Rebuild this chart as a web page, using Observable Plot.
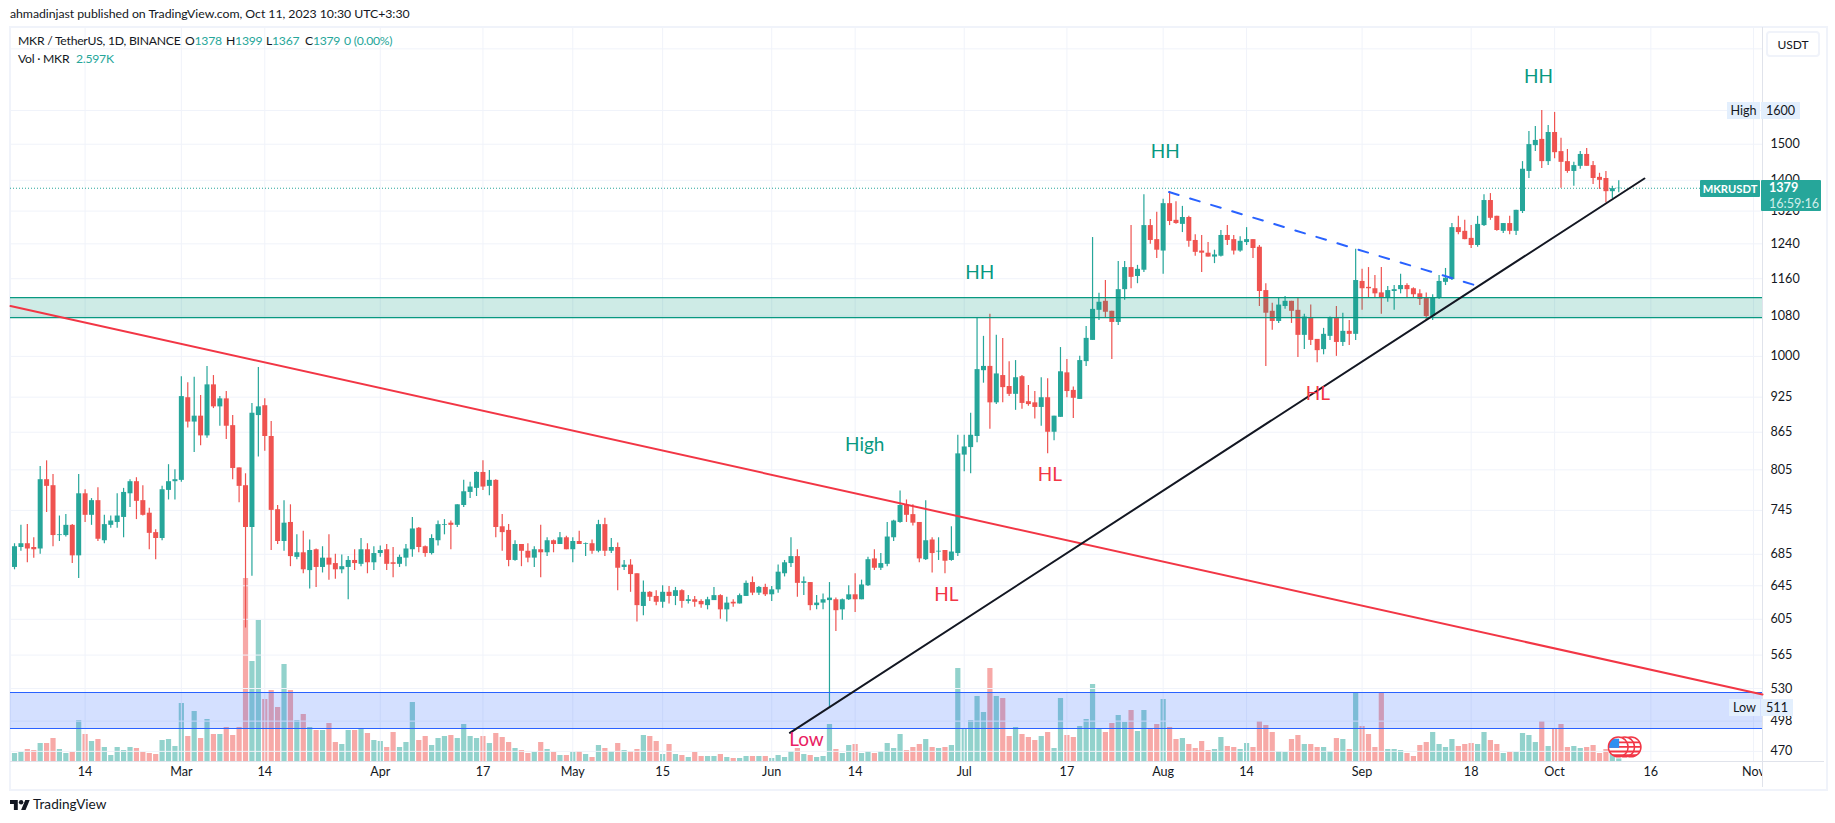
<!DOCTYPE html>
<html>
<head>
<meta charset="utf-8">
<script src="https://cdn.jsdelivr.net/npm/d3@7"></script>
<script src="https://cdn.jsdelivr.net/npm/@observablehq/plot@0.6"></script>
<style>
html,body{margin:0;padding:0;background:#fff;width:1835px;height:823px;overflow:hidden}
#page{position:relative;width:1835px;height:823px;font-family:Lato,sans-serif;color:#131722;font-size:12.6px}
#page .layer svg{position:absolute;left:0;top:27px;background:transparent}
.abs{position:absolute;white-space:nowrap}
.leg{font-size:12.2px;letter-spacing:-0.25px}
.up{color:#26a69a}
.chip{position:absolute;display:flex;align-items:center;justify-content:center;white-space:nowrap;font-size:12.6px}
.blue{background:#e3effd}
.teal{background:#26a69a;color:#fff;border-radius:1px}
</style>
</head>
<body>
<div id="page">
  <div class="abs" style="left:10px;top:6px;font-size:12.3px;letter-spacing:-0.05px">ahmadinjast published on TradingView.com, Oct 11, 2023 10:30 UTC+3:30</div>
  <div class="abs" id="frame" style="left:9px;top:26px;width:1815px;height:761px;border:2px solid #f0f3fa;box-sizing:content-box"></div>
  <div id="volumeLayer" class="layer"></div>
  <div id="priceLayer" class="layer"></div>
  <div class="abs leg" style="left:18px;top:33px">MKR / TetherUS, 1D, BINANCE</div>
  <div class="abs leg" style="left:185px;top:33px">O<span class="up">1378</span></div>
  <div class="abs leg" style="left:226px;top:33px">H<span class="up">1399</span></div>
  <div class="abs leg" style="left:266px;top:33px">L<span class="up">1367</span></div>
  <div class="abs leg" style="left:305px;top:33px">C<span class="up">1379</span></div>
  <div class="abs leg up" style="left:344px;top:33px">0 (0.00%)</div>
  <div class="abs leg" style="left:18px;top:51px">Vol · MKR</div>
  <div class="abs leg up" style="left:76px;top:51px">2.597K</div>
  <div class="abs" style="left:1762px;top:761px;width:62px;height:26px;background:#fff;border-left:1px solid #e0e3eb;border-top:1px solid #e0e3eb;box-sizing:border-box"></div>
  <div class="chip" style="left:1766px;top:31px;width:54px;height:26px;background:#fff;border:2px solid #f0f3fa;border-radius:4px;box-sizing:border-box;font-size:12px">USDT</div>
  <div class="chip blue" style="left:1727px;top:102px;width:33px;height:17px">High</div>
  <div class="chip blue" style="left:1761px;top:102px;width:39px;height:17px">1600</div>
  <div class="chip blue" style="left:1729px;top:699px;width:31px;height:17px">Low</div>
  <div class="chip blue" style="left:1761px;top:699px;width:32px;height:17px">511</div>
  <div class="chip teal" style="left:1700px;top:180px;width:60px;height:17px;font-weight:700;font-size:11.2px">MKRUSDT</div>
  <div class="abs teal" style="left:1761px;top:180px;width:60px;height:31px;padding-left:8px;box-sizing:border-box;line-height:15.5px"><span style="font-weight:700">1379</span><br><span style="color:#d0eeea">16:59:16</span></div>
  <svg class="abs" style="left:10px;top:799px" width="20" height="12" viewBox="0 4 36 18"><path fill="#131722" d="M14 22H7V11H0V4h14v18zM28 22h-8l7.5-18h8L28 22z"/><circle cx="20" cy="8" r="4" fill="#131722"/></svg>
  <div class="abs" style="left:33px;top:796px;font-size:13.6px">TradingView</div>
</div>
<script>
// Daily candles Feb 3 .. Oct 11 2023
const opens = [
668,694,699,694,692,790,781,710,710,724,683,769,738,759,703,724,728,735,769,787,759,741,714,706,774,787,
789,924,882,892,859,947,908,922,876,808,781,721,893,910,858,746,702,728,681,687,664,691,668,680,673,665,668,677,672,691,674,
686,691,674,672,680,691,720,695,686,703,724,727,724,752,771,777,801,780,789,722,717,677,698,689,680,691,687,703,698,707,
691,702,698,699,689,725,689,694,668,671,660,620,637,632,625,637,632,639,626,628,626,621,627,633,616,625,623,632,649,636,643,
634,640,660,673,682,648,649,621,624,627,628,616,628,634,628,645,679,667,672,707,728,752,739,728,678,704,688,690,677,686,
828,840,858,973,981,915,964,944,930,962,917,915,907,924,865,890,969,937,921,990,1031,1092,1111,1090,1067,1136,1185,1165,1179,1284,1250,
1223,1339,1297,1287,1304,1248,1223,1218,1209,1211,1260,1250,1223,1243,1250,1232,1134,1090,1069,1100,1111,1092,1041,1075,1033,1013,1039,1075,1027,1049,1043,
1154,1141,1138,1129,1117,1132,1136,1145,1138,1127,1117,1079,1117,1152,1158,1279,1270,1253,1236,1284,1347,1307,1270,1289,1270,1319,1424,1496,1514,1451,
1534,1479,1451,1424,1438,1471,1440,1408,1405,1370,1378];
const highs = [
699,724,725,707,810,819,798,737,739,725,798,775,762,778,738,737,769,777,790,793,781,748,718,780,813,805,
962,951,961,928,981,964,926,935,893,808,799,914,979,922,883,752,759,753,711,716,704,692,695,711,685,684,682,691,706,699,695,
696,698,694,684,698,735,721,696,711,730,732,730,753,789,786,802,819,804,790,739,725,703,698,699,695,724,707,704,714,709,
707,716,700,704,731,734,706,700,677,678,660,651,638,639,645,644,643,640,633,632,628,631,643,634,631,628,635,651,656,644,647,
644,671,677,707,691,656,649,633,635,649,630,629,645,660,652,681,691,686,728,731,773,760,753,728,759,707,707,690,722,860,
860,897,1077,1039,1084,1041,1035,990,992,964,946,935,960,958,892,1017,994,943,1000,1059,1255,1128,1156,1090,1199,1199,1284,1190,1362,1299,1317,
1350,1370,1344,1332,1307,1262,1260,1243,1225,1272,1284,1260,1257,1279,1250,1236,1149,1107,1117,1121,1111,1117,1084,1103,1033,1055,1078,1100,1086,1071,1227,
1181,1185,1167,1185,1143,1145,1170,1149,1140,1136,1129,1125,1167,1183,1289,1307,1297,1284,1307,1362,1365,1307,1289,1307,1322,1451,1537,1552,1600,1555,
1594,1517,1485,1449,1479,1488,1451,1419,1424,1384,1399];
const lows = [
665,689,674,680,685,742,695,702,708,673,654,728,724,702,699,720,720,707,749,732,737,691,678,703,760,760,
786,872,832,843,855,905,875,853,790,756,595,657,825,834,690,698,689,669,678,660,641,643,661,652,653,660,628,664,669,660,664,
681,664,655,668,669,681,687,681,684,696,711,691,721,749,762,765,774,766,707,689,669,676,669,674,668,655,682,687,698,691,
674,698,682,685,687,682,686,639,664,637,602,609,626,621,618,623,621,618,623,619,618,616,627,605,602,619,623,632,633,633,632,
626,636,656,668,631,633,615,616,616,511,591,604,627,613,628,644,664,664,669,702,727,728,723,674,677,661,677,660,676,682,
802,799,848,950,870,912,915,926,902,904,909,887,875,830,851,890,924,888,921,981,1031,1071,1075,994,1061,1113,1138,1149,1174,1239,1206,
1170,1284,1287,1267,1232,1211,1174,1209,1194,1209,1236,1214,1220,1236,1206,1100,981,1051,1065,1094,1065,998,1013,1021,988,1003,1031,1000,1019,1021,1031,
1092,1119,1119,1084,1109,1092,1127,1117,1119,1102,1071,1071,1115,1145,1156,1262,1250,1229,1232,1282,1297,1270,1265,1262,1260,1314,1405,1479,1432,1440,
1459,1379,1419,1384,1430,1438,1389,1376,1341,1352,1367];
const closes = [
695,699,692,691,790,780,710,711,724,683,769,738,759,705,725,730,737,771,787,758,738,713,706,775,787,790,
926,882,892,859,947,908,922,875,807,780,721,897,908,858,745,702,727,682,687,665,690,668,680,671,665,669,677,673,691,674,686,
690,672,672,681,692,719,694,686,706,725,725,724,753,772,779,801,779,789,721,714,677,698,689,680,691,687,703,698,707,691,
702,698,699,689,725,689,694,667,671,659,621,637,631,625,637,632,639,626,628,625,622,628,633,616,624,623,633,648,636,643,634,
640,662,674,682,648,650,621,624,628,630,615,628,634,628,646,678,667,673,708,730,752,738,727,679,703,686,689,676,688,830,
841,860,975,981,915,967,942,930,960,914,912,907,924,865,892,971,935,923,992,1035,1094,1109,1088,1067,1136,1185,1163,1181,1284,1248,1225,
1339,1294,1289,1304,1246,1220,1218,1209,1214,1260,1248,1223,1246,1250,1229,1132,1086,1069,1103,1111,1090,1041,1078,1031,1011,1043,1075,1027,1049,1043,1156,
1138,1138,1127,1117,1134,1136,1145,1136,1125,1115,1079,1117,1154,1161,1279,1267,1250,1236,1287,1347,1302,1272,1289,1270,1322,1430,1499,1511,1451,1534,
1476,1449,1424,1440,1471,1438,1405,1400,1370,1378,1379];
// Volume in thousands of MKR
const volumes = [
8,9,12,11,18,18,23,12,8,9,41,27,20,22,14,6,14,11,14,13,9,8,7,21,22,15,
58,25,50,23,42,27,27,34,26,34,183,100,141,62,71,54,97,71,41,47,34,31,31,38,19,17,31,31,33,28,21,
20,14,29,14,19,59,21,25,16,23,25,26,23,37,25,23,25,18,28,24,19,13,11,8,9,19,12,9,6,6,
9,10,7,4,16,13,10,18,11,10,12,26,25,20,7,17,7,6,4,9,5,5,5,7,4,3,3,5,5,5,5,
3,6,4,10,13,7,6,4,5,37,12,8,16,17,8,10,8,10,18,13,27,11,14,17,22,14,13,14,16,93,
32,41,65,49,93,65,63,25,34,27,24,21,25,29,13,63,26,24,35,42,77,33,29,38,46,39,51,30,51,32,37,
62,34,22,23,17,13,20,11,12,24,15,14,12,18,14,40,36,29,10,9,22,26,17,17,14,14,10,23,22,12,69,
35,27,14,69,12,12,11,8,5,16,19,29,17,14,22,15,17,18,17,29,21,17,8,9,9,28,26,19,40,15,
32,37,14,15,13,14,16,8,12,7,2.6];

const gridPrices = [1800,1600,1500,1400,1320,1240,1160,1080,1000,925,865,805,745,685,645,605,565,530,498,470];
const priceTickLabels = [1500,1400,1320,1240,1160,1080,1000,925,865,805,745,685,645,605,565,530,498,470];
const timeTickDates = ["2023-02-14","2023-03-01","2023-03-14","2023-04-01","2023-04-17","2023-05-01","2023-05-15","2023-06-01","2023-06-14","2023-07-01","2023-07-17","2023-08-01","2023-08-14","2023-09-01","2023-09-18","2023-10-01","2023-10-16","2023-11-01"];
const timeTickLabels = ["14","Mar","14","Apr","17","May","15","Jun","14","Jul","17","Aug","14","Sep","18","Oct","16","Nov"];

const resistanceZone = [1077,1119];
const supportZone = [491,526];
const lastPrice = 1379;
const redTrend = [["2023-02-02T09:00Z",1101],["2023-11-02T09:36Z",524]];
const blackTrend = [["2023-06-03T20:00Z",487],["2023-10-15T00:00Z",1405]];
const blueTrend = [["2023-08-01T22:00Z",1369],["2023-09-18T08:00Z",1147]];

const noteTexts = ["HH","HH","HH","High","HL","HL","HL","Low"];
const noteDates = ["2023-07-03T10:00Z","2023-08-01T08:00Z","2023-09-28T12:00Z","2023-06-15T12:00Z","2023-06-28T05:00Z","2023-07-14T08:00Z","2023-08-25T03:00Z","2023-06-06T10:00Z"];
const notePrices = [1172,1477,1707,845,634,798,930,480];
const noteColors = ["#089981","#089981","#089981","#089981","#f23645","#f23645","#f23645","#e91e63"];

const eventDates = ["2023-10-12T22:00Z","2023-10-11T22:00Z","2023-10-10T22:00Z"];
const eventPrice = 474;

const UP = "#26a69a", DOWN = "#ef5350";
const xDomain = [new Date("2023-02-02T09:00Z"), new Date("2023-11-02T09:36Z")];
const days = d3.utcDay.range(new Date("2023-02-03T00:00Z"), new Date("2023-10-12T00:00Z"));
const candles = days.map((date,i)=>({date,open:opens[i],high:highs[i],low:lows[i],close:closes[i],volume:volumes[i],
  color:closes[i]>=opens[i]?UP:DOWN}));
const tickDates = timeTickDates.map(d=>new Date(d+"T00:00Z"));
const tickLabelMap = new Map(tickDates.map((d,i)=>[+d,timeTickLabels[i]]));
const trend = a=>a.map(([t,p])=>({t:new Date(t),p}));
const notes = noteTexts.map((text,i)=>({text,t:new Date(noteDates[i]),p:notePrices[i],c:noteColors[i]}));

const flag = `<svg xmlns="http://www.w3.org/2000/svg" viewBox="0 0 24 24"><clipPath id="c"><circle cx="12" cy="12" r="11"/></clipPath><circle cx="12" cy="12" r="11" fill="#fff"/><g clip-path="url(#c)"><path d="M0 6h24v2H0zM0 11h24v2H0zM0 16h24v2H0zM0 20h24v2H0z" fill="#f23645"/><rect x="2" y="3" width="11" height="10" fill="#2f8ff0"/></g><circle cx="12" cy="12" r="10.8" fill="none" stroke="#f23645" stroke-width="1.6"/></svg>`;
const flagSrc = "data:image/svg+xml," + encodeURIComponent(flag);
const events = eventDates.map(d=>({t:new Date(d),src:flagSrc}));

const common = {width:1835,height:760,marginLeft:10,marginRight:73,marginTop:0,marginBottom:26,
  style:{background:"transparent",fontFamily:"Lato,sans-serif",color:"#131722"}};

const vol = Plot.plot({...common,
  x:{type:"utc",domain:xDomain,axis:null},
  y:{domain:[0,734],axis:null},
  color:{type:"identity"},
  marks:[
    Plot.ruleX(candles,{x:"date",y1:0,y2:"volume",stroke:"color",strokeWidth:5.2,strokeOpacity:0.5})
  ]});
document.getElementById("volumeLayer").append(vol);

const price = Plot.plot({...common,
  x:{type:"utc",domain:xDomain,axis:null},
  y:{type:"log",domain:[461,1875],axis:null},
  color:{type:"identity"},
  marks:[
    Plot.ruleY(gridPrices,{stroke:"#f0f3fa",strokeWidth:1}),
    Plot.ruleX(tickDates,{stroke:"#f0f3fa",strokeWidth:1}),
    Plot.ruleY([461],{stroke:"#e0e3eb",strokeWidth:1}),
    Plot.ruleX([xDomain[1]],{stroke:"#e0e3eb",strokeWidth:1}),
    Plot.axisX({ticks:tickDates,tickFormat:d=>tickLabelMap.get(+d),tickSize:0,tickPadding:6,label:null,fontSize:12.6,anchor:"bottom"}),
    Plot.axisY({anchor:"right",ticks:priceTickLabels,tickFormat:d=>String(d),tickSize:0,tickPadding:8,label:null,fontSize:12.6}),
    Plot.ruleY([lastPrice],{stroke:UP,strokeWidth:1,strokeDasharray:"1 2"}),
    Plot.ruleX(candles,{x:"date",y1:"low",y2:"high",stroke:"color",strokeWidth:1.2}),
    Plot.ruleX(candles,{x:"date",y1:"open",y2:"close",stroke:"color",strokeWidth:5}),
    Plot.rect([resistanceZone],{x1:()=>xDomain[0],x2:()=>xDomain[1],y1:d=>d[0],y2:d=>d[1],fill:"#089981",fillOpacity:0.2}),
    Plot.rect([supportZone],{x1:()=>xDomain[0],x2:()=>xDomain[1],y1:d=>d[0],y2:d=>d[1],fill:"#2962ff",fillOpacity:0.2}),
    Plot.ruleY(resistanceZone,{stroke:"#089981",strokeWidth:1.2}),
    Plot.ruleY(supportZone,{stroke:"#2962ff",strokeWidth:1.2}),
    Plot.line(trend(redTrend),{x:"t",y:"p",stroke:"#f23645",strokeWidth:2}),
    Plot.line(trend(blueTrend),{x:"t",y:"p",stroke:"#2962ff",strokeWidth:2,strokeDasharray:"10 12"}),
    Plot.line(trend(blackTrend),{x:"t",y:"p",stroke:"#131722",strokeWidth:2}),
    Plot.text(notes,{x:"t",y:"p",text:"text",fill:"c",fontSize:19,fontFamily:"Lato,sans-serif"}),
    Plot.image(events,{x:"t",y:()=>eventPrice,src:d=>d.src,width:22,height:22})
  ]});
document.getElementById("priceLayer").append(price);
</script>
</body>
</html>
